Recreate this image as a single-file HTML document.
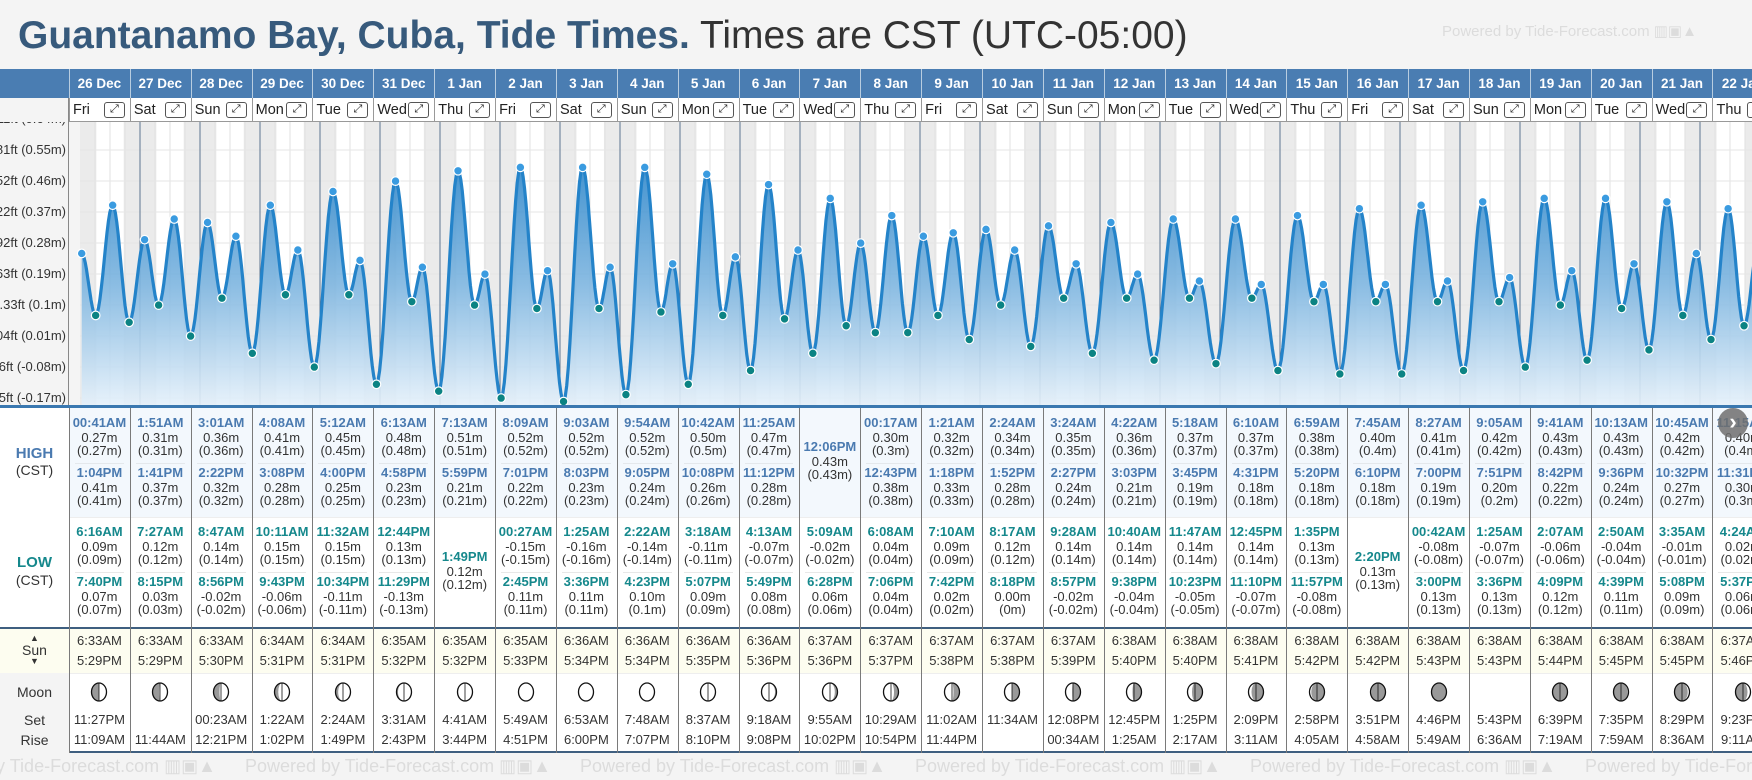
<!DOCTYPE html>
<html><head><meta charset="utf-8">
<style>
*{box-sizing:border-box;margin:0;padding:0}
body{width:1752px;height:780px;overflow:hidden;background:#f4f4f4;font-family:"Liberation Sans",Arial,sans-serif;position:relative}
#root{position:absolute;left:0;top:0;width:1752px;height:780px;overflow:hidden}
.a{position:absolute}
.t{position:absolute;text-align:center;white-space:nowrap;line-height:16px;font-size:13px;color:#333}
.hb{color:#4a7ab0;font-weight:bold}
.lb{color:#15888c;font-weight:bold}
.wm{position:absolute;color:#dcdcdc;font-size:20px;white-space:nowrap}
</style></head><body>
<div class="a" style="left:18px;top:12px;font-size:39px;white-space:nowrap;line-height:48px"><b style="color:#375a7c">Guantanamo Bay, Cuba, Tide Times.</b> <span style="color:#333">Times are CST (UTC-05:00)</span></div>
<div class="wm" style="left:1442px;top:22px;font-size:15px">Powered by Tide-Forecast.com ▥▣▲</div>
<div id="root"></div>
<script>
const dates=["26 Dec","27 Dec","28 Dec","29 Dec","30 Dec","31 Dec","1 Jan","2 Jan","3 Jan","4 Jan","5 Jan","6 Jan","7 Jan","8 Jan","9 Jan","10 Jan","11 Jan","12 Jan","13 Jan","14 Jan","15 Jan","16 Jan","17 Jan","18 Jan","19 Jan","20 Jan","21 Jan","22 Jan"];
const dayNames=["Fri","Sat","Sun","Mon","Tue","Wed","Thu","Fri","Sat","Sun","Mon","Tue","Wed","Thu","Fri","Sat","Sun","Mon","Tue","Wed","Thu","Fri","Sat","Sun","Mon","Tue","Wed","Thu"];
const highTimes=[["00:41AM","1:04PM"],["1:51AM","1:41PM"],["3:01AM","2:22PM"],["4:08AM","3:08PM"],["5:12AM","4:00PM"],["6:13AM","4:58PM"],["7:13AM","5:59PM"],["8:09AM","7:01PM"],["9:03AM","8:03PM"],["9:54AM","9:05PM"],["10:42AM","10:08PM"],["11:25AM","11:12PM"],["12:06PM"],["00:17AM","12:43PM"],["1:21AM","1:18PM"],["2:24AM","1:52PM"],["3:24AM","2:27PM"],["4:22AM","3:03PM"],["5:18AM","3:45PM"],["6:10AM","4:31PM"],["6:59AM","5:20PM"],["7:45AM","6:10PM"],["8:27AM","7:00PM"],["9:05AM","7:51PM"],["9:41AM","8:42PM"],["10:13AM","9:36PM"],["10:45AM","10:32PM"],["11:15AM","11:31PM"]];
const highVals=[[0.27,0.41],[0.31,0.37],[0.36,0.32],[0.41,0.28],[0.45,0.25],[0.48,0.23],[0.51,0.21],[0.52,0.22],[0.52,0.23],[0.52,0.24],[0.50,0.26],[0.47,0.28],[0.43],[0.30,0.38],[0.32,0.33],[0.34,0.28],[0.35,0.24],[0.36,0.21],[0.37,0.19],[0.37,0.18],[0.38,0.18],[0.40,0.18],[0.41,0.19],[0.42,0.20],[0.43,0.22],[0.43,0.24],[0.42,0.27],[0.40,0.30]];
const lowTimes=[["6:16AM","7:40PM"],["7:27AM","8:15PM"],["8:47AM","8:56PM"],["10:11AM","9:43PM"],["11:32AM","10:34PM"],["12:44PM","11:29PM"],["1:49PM"],["00:27AM","2:45PM"],["1:25AM","3:36PM"],["2:22AM","4:23PM"],["3:18AM","5:07PM"],["4:13AM","5:49PM"],["5:09AM","6:28PM"],["6:08AM","7:06PM"],["7:10AM","7:42PM"],["8:17AM","8:18PM"],["9:28AM","8:57PM"],["10:40AM","9:38PM"],["11:47AM","10:23PM"],["12:45PM","11:10PM"],["1:35PM","11:57PM"],["2:20PM"],["00:42AM","3:00PM"],["1:25AM","3:36PM"],["2:07AM","4:09PM"],["2:50AM","4:39PM"],["3:35AM","5:08PM"],["4:24AM","5:37PM"]];
const lowVals=[[0.09,0.07],[0.12,0.03],[0.14,-0.02],[0.15,-0.06],[0.15,-0.11],[0.13,-0.13],[0.12],[-0.15,0.11],[-0.16,0.11],[-0.14,0.10],[-0.11,0.09],[-0.07,0.08],[-0.02,0.06],[0.04,0.04],[0.09,0.02],[0.12,0.00],[0.14,-0.02],[0.14,-0.04],[0.14,-0.05],[0.14,-0.07],[0.13,-0.08],[0.13],[-0.08,0.13],[-0.07,0.13],[-0.06,0.12],[-0.04,0.11],[-0.01,0.09],[0.02,0.06]];
const sunrise=["6:33AM","6:33AM","6:33AM","6:34AM","6:34AM","6:35AM","6:35AM","6:35AM","6:36AM","6:36AM","6:36AM","6:36AM","6:37AM","6:37AM","6:37AM","6:37AM","6:37AM","6:38AM","6:38AM","6:38AM","6:38AM","6:38AM","6:38AM","6:38AM","6:38AM","6:38AM","6:38AM","6:37AM"];
const sunset=["5:29PM","5:29PM","5:30PM","5:31PM","5:31PM","5:32PM","5:32PM","5:33PM","5:34PM","5:34PM","5:35PM","5:36PM","5:36PM","5:37PM","5:38PM","5:38PM","5:39PM","5:40PM","5:40PM","5:41PM","5:42PM","5:42PM","5:43PM","5:43PM","5:44PM","5:45PM","5:45PM","5:46PM"];
const moonSet=["11:27PM","","00:23AM","1:22AM","2:24AM","3:31AM","4:41AM","5:49AM","6:53AM","7:48AM","8:37AM","9:18AM","9:55AM","10:29AM","11:02AM","11:34AM","12:08PM","12:45PM","1:25PM","2:09PM","2:58PM","3:51PM","4:46PM","5:43PM","6:39PM","7:35PM","8:29PM","9:23PM"];
const moonRise=["11:09AM","11:44AM","12:21PM","1:02PM","1:49PM","2:43PM","3:44PM","4:51PM","6:00PM","7:07PM","8:10PM","9:08PM","10:02PM","10:54PM","11:44PM","","00:34AM","1:25AM","2:17AM","3:11AM","4:05AM","4:58AM","5:49AM","6:36AM","7:19AM","7:59AM","8:36AM","9:11AM"];
const moonLit=[0.5,0.55,0.6,0.75,0.82,0.9,0.96,1,1,1,0.97,0.9,0.82,0.7,0.6,0.5,0.45,0.4,0.3,0.2,0.12,0.05,0.02,-1,0.03,0.06,0.12,0.2];
const moonSide=["R","R","R","R","R","R","R","R","R","R","L","L","L","L","L","L","L","L","L","L","L","L","L","L","R","R","R","R"];
const tickVals=[0.64,0.55,0.46,0.37,0.28,0.19,0.10,0.01,-0.08,-0.17];
const tickLabels=["2.11ft (0.64m)","1.81ft (0.55m)","1.52ft (0.46m)","1.22ft (0.37m)","0.92ft (0.28m)","0.63ft (0.19m)","0.33ft (0.1m)","0.04ft (0.01m)","-0.26ft (-0.08m)","-0.55ft (-0.17m)"];

const root=document.getElementById('root');
const COL0=69,COLW=60.87,CX0=80,DAYW=60,CT=122,CB=405;
function yS(v){return 150+(0.55-v)*344.4;}
function yD(v){return yS(v)+7;}
function xS(h){return CX0+h*DAYW/24;}
function pt(s){const m=s.match(/(\d+):(\d+)(AM|PM)/);let h=(+m[1])%12;if(m[3]==="PM")h+=12;return h+(+m[2])/60;}
function colX(k){return COL0+COLW*k;}
function box(css,name){const d=document.createElement('div');d.className='a';d.style.cssText=css;


root.appendChild(d);return d;}
function txt(x,y,w,s,cls,name,style){const d=document.createElement('div');d.className='t '+(cls||'');d.style.left=x+'px';d.style.top=(y-8)+'px';d.style.width=w+'px';if(style)d.style.cssText+=style;d.textContent=s;


root.appendChild(d);return d;}

box('left:0;top:69px;width:69px;height:337px;background:#f4f4f4;border-right:1px solid #888','y-axis-panel');
box('left:0;top:69px;width:1752px;height:29px;background:#4a7db2','date-header-bar');
box('left:69px;top:98px;width:1683px;height:24px;background:#fff;border-bottom:1px solid #999','day-name-row');
box('left:0;top:408px;width:1752px;height:109px;background:#f3f8fd','high-section');
box('left:0;top:517px;width:1752px;height:110px;background:#fff;border-top:1px solid #eee','low-section');
box('left:0;top:627px;width:1752px;height:46px;background:#fdfdf0;border-top:2px solid #3f5f80','sun-row');
box('left:0;top:673px;width:1752px;height:80px;background:#fff;border-top:1px solid #eee;border-bottom:2px solid #3f5f80','moon-row');
box('left:0;top:673px;width:69px;height:80px;background:#f4f4f4','moon-label-cell');
box('left:0;top:408px;width:69px;height:219px;background:#fff','tide-label-cell');
box('left:0;top:405px;width:1752px;height:3px;background:#3a78b0','chart-bottom-border');

const NS='http://www.w3.org/2000/svg';
const svg=document.createElementNS(NS,'svg');
svg.setAttribute('width',1752-COL0);svg.setAttribute('height',CB-CT);
svg.style.cssText='position:absolute;left:'+COL0+'px;top:'+CT+'px';


root.appendChild(svg);
const g=document.createElementNS(NS,'g');g.setAttribute('transform','translate('+(-COL0)+','+(-CT)+')');svg.appendChild(g);
function el(tag,attrs,name){const e=document.createElementNS(NS,tag);for(const k in attrs)e.setAttribute(k,attrs[k]);


g.appendChild(e);return e;}
const defs=document.createElementNS(NS,'defs');defs.innerHTML='<linearGradient id="fg" gradientUnits="userSpaceOnUse" x1="0" y1="140" x2="0" y2="405"><stop offset="0" stop-color="#1f7ec6"/><stop offset="0.55" stop-color="#7fb6e0"/><stop offset="1" stop-color="#e4f0fa"/></linearGradient>';svg.appendChild(defs);
el('rect',{x:CX0,y:CT,width:1752-CX0,height:CB-CT,fill:'#fff'},'chart-bg');
for(let d=0;d<dates.length;d++){
  const x0=xS(d*24);
  el('rect',{x:x0,y:CT,width:pt(sunrise[d])*DAYW/24,height:CB-CT,fill:'#ebebeb'},'night-band');
  const ss=xS(d*24+pt(sunset[d]));
  el('rect',{x:ss,y:CT,width:xS(d*24+24)-ss,height:CB-CT,fill:'#ebebeb'},'night-band');
  for(let h=6;h<24;h+=6) el('line',{x1:xS(d*24+h),x2:xS(d*24+h),y1:CT,y2:CB,stroke:'#e2e2e2','stroke-width':1},'hour-gridline');
}
tickVals.forEach(v=>el('line',{x1:CX0,x2:1752,y1:yS(v),y2:yS(v),stroke:'#e6e6e6','stroke-width':1},'y-gridline'));
for(let d=1;d<dates.length;d++) el('line',{x1:xS(d*24),x2:xS(d*24),y1:CT,y2:CB,stroke:'#5d7590','stroke-width':1},'midnight-line');
const ex=[];
for(let d=0;d<dates.length;d++){
  highTimes[d].forEach((s,i)=>ex.push({t:d*24+pt(s),v:highVals[d][i],hi:true}));
  lowTimes[d].forEach((s,i)=>ex.push({t:d*24+pt(s),v:lowVals[d][i],hi:false}));
}
ex.sort((a,b)=>a.t-b.t);
let pts=[];
for(let i=0;i<ex.length-1;i++){const a=ex[i],b=ex[i+1];for(let j=0;j<12;j++){const f=j/12;const v=a.v+(b.v-a.v)*(1-Math.cos(Math.PI*f))/2;pts.push([xS(a.t+(b.t-a.t)*f),yD(v)]);}}
const last=ex[ex.length-1];pts.push([xS(last.t),yD(last.v)]);
const line=pts.map((p,i)=>(i?'L':'M')+p[0].toFixed(1)+','+p[1].toFixed(1)).join('');
el('path',{d:line+'L'+pts[pts.length-1][0].toFixed(1)+','+CB+'L'+pts[0][0].toFixed(1)+','+CB+'Z',fill:'url(#fg)',opacity:0.9},'tide-area');
el('path',{d:line,fill:'none',stroke:'#2483c9','stroke-width':3.2},'tide-line');
ex.forEach(e=>el('circle',{cx:xS(e.t),cy:yD(e.v),r:4.3,fill:e.hi?'#3a9be0':'#0b8383',stroke:'#fff','stroke-width':1.2},e.hi?'high-tide-point':'low-tide-point'));

const yl=box('left:0;top:122px;width:68px;height:283px;overflow:hidden','y-axis-labels');
tickVals.forEach((v,i)=>{const d=document.createElement('div');d.className='t';d.style.cssText='right:2px;text-align:right;top:'+(yS(v)-122-8)+'px;font-size:13px';d.textContent=tickLabels[i];


yl.appendChild(d);});

for(let k=0;k<dates.length;k++){
  const x=colX(k),w=COLW;
  box('left:'+x+'px;top:69px;width:1px;height:53px;background:#b8cde0','header-divider');
  box('left:'+x+'px;top:98px;width:1px;height:24px;background:#999','dayrow-divider');
  box('left:'+x+'px;top:408px;width:1px;height:345px;background:#7a7a7a','table-column-divider');
  txt(x,84,w,dates[k],'','date-label','color:#fff;font-weight:bold;font-size:13.5px');
  txt(x+4,110,28,dayNames[k],'','day-name','font-size:14.5px;color:#222;text-align:left;width:32px');
  const b=box('left:'+(x+w-26)+'px;top:102px;width:21px;height:16px;border:1px solid #555;border-radius:3px;background:#fff;font-size:11px;line-height:13px;text-align:center;color:#222','expand-day-button');
  
  b.textContent='⤢';
  const hs=highTimes[k];
  const hc=hs.length===1?[462]:[438,488];
  hs.forEach((s,i)=>{const c=hc[i];const vv=highVals[k][i];const vs=vv.toFixed(2)+'m';const ps='('+(+vv.toFixed(2))+'m)';
    txt(x,c-15,w,s,'hb','high-time');txt(x,c,w,vs,'','high-height');txt(x,c+13,w,ps,'','high-height-metric');});
  if(hs.length===2) box('left:'+(x+6)+'px;top:463px;width:'+(w-12)+'px;height:1px;background:#e4e8ec','high-separator');
  const ls=lowTimes[k];
  const lc=ls.length===1?[572]:[547,597];
  ls.forEach((s,i)=>{const c=lc[i];const vv=lowVals[k][i];const vs=vv.toFixed(2)+'m';const ps='('+(+vv.toFixed(2))+'m)';
    txt(x,c-15,w,s,'lb','low-time');txt(x,c,w,vs,'','low-height');txt(x,c+13,w,ps,'','low-height-metric');});
  if(ls.length===2) box('left:'+(x+6)+'px;top:572px;width:'+(w-12)+'px;height:1px;background:#e8e8e8','low-separator');
  txt(x,641,w,sunrise[k],'','sunrise-time');txt(x,661,w,sunset[k],'','sunset-time');
  txt(x,720,w,moonSet[k],'','moonset-time');txt(x,740,w,moonRise[k],'','moonrise-time');
  const f=moonLit[k];
  if(f>=0){
    const ms=document.createElementNS(NS,'svg');ms.setAttribute('width',20);ms.setAttribute('height',22);
    ms.style.cssText='position:absolute;left:'+(x+w/2-10)+'px;top:681px';
    
    
    const rx=7.5,ry=9,cx=10,cy=11;const s=moonSide[k]==='R'?1:-1;const tr=rx*Math.abs(1-2*f);
    const sweepOuter=s>0?1:0;const sweepT=(f>0.5)?(s>0?1:0):(s>0?0:1);
    let p='M'+cx+','+(cy-ry)+' A'+rx+','+ry+' 0 0 '+sweepOuter+' '+cx+','+(cy+ry)+' A'+tr.toFixed(2)+','+ry+' 0 0 '+sweepT+' '+cx+','+(cy-ry)+'Z';
    ms.innerHTML='<ellipse cx="10" cy="11" rx="7.5" ry="9" fill="#999"/>'+(f>0.01?'<path d="'+p+'" fill="#fff"/>':'')+'<ellipse cx="10" cy="11" rx="7.5" ry="9" fill="none" stroke="#111" stroke-width="1.3"/>'+(f>0.02&&f<0.98?'<line x1="10" y1="2" x2="10" y2="20" stroke="#111" stroke-width="0.8"/>':'');
    root.appendChild(ms);
  }
}
txt(0,454,69,'HIGH','hb','high-label','font-size:15px');txt(0,470,69,'(CST)','','high-cst-label','font-size:14px');
txt(0,563,69,'LOW','lb','low-label','font-size:15px');txt(0,580,69,'(CST)','','low-cst-label','font-size:14px');
txt(0,638,69,'▲','','sunrise-arrow','font-size:9px');txt(0,650,69,'Sun','','sun-label','font-size:14px');txt(0,661,69,'▼','','sunset-arrow','font-size:9px');
txt(0,692,69,'Moon','','moon-label','font-size:14px');txt(0,720,69,'Set','','moonset-label','font-size:14px');txt(0,740,69,'Rise','','moonrise-label','font-size:14px');
const nb=box('left:1718px;top:408px;width:30px;height:30px;border-radius:50%;background:rgba(110,110,110,0.85);color:#fff;font-size:22px;line-height:28px;text-align:center;font-weight:bold','next-button');

nb.textContent='›';
for(let i=0;i<6;i++){const w=document.createElement('div');w.className='wm';w.style.left=(-90+i*335)+'px';w.style.top='756px';w.style.fontSize='18px';w.textContent='Powered by Tide-Forecast.com ▥▣▲';


root.appendChild(w);}
</script>
</body></html>
